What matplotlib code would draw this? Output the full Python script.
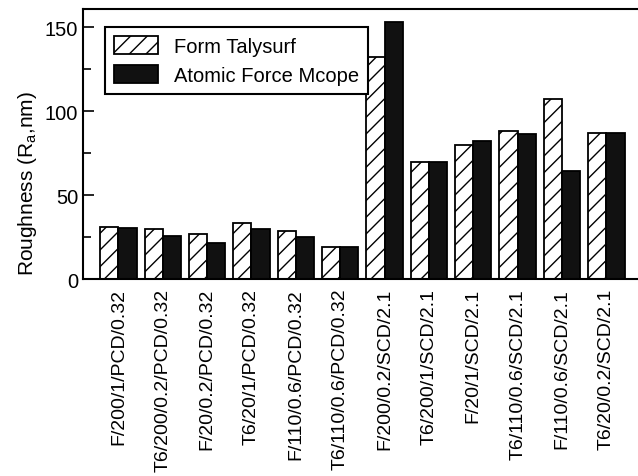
import matplotlib
matplotlib.use("Agg")
import numpy as np
import matplotlib.pyplot as plt
from matplotlib.ticker import MultipleLocator

# data
conditions = [
    "F/200/1/PCD/0.32", "T6/200/0.2/PCD/0.32", "F/20/0.2/PCD/0.32",
    "T6/20/1/PCD/0.32", "F/110/0.6/PCD/0.32", "T6/110/0.6/PCD/0.32",
    "F/200/0.2/SCD/2.1", "T6/200/1/SCD/2.1", "F/20/1/SCD/2.1",
    "T6/110/0.6/SCD/2.1", "F/110/0.6/SCD/2.1", "T6/20/0.2/SCD/2.1",
]
form_talysurf = [31.4, 30, 27, 33.6, 28.7, 19.1, 132.6, 69.7, 80.2, 88.5, 107.4, 87]
afm = [30.6, 25.7, 21.7, 30, 25.5, 19.1, 153, 69.7, 82.6, 86.6, 64.7, 87]
series_labels = ["Form Talysurf", "Atomic Force Mcope"]

plt.rcParams["font.family"] = ["Liberation Sans", "DejaVu Sans"]
plt.rcParams["hatch.linewidth"] = 1.0

fig = plt.figure(figsize=(6.38, 4.77), dpi=100)
ax = fig.add_axes([0.130, 0.412, 0.876, 0.567])

x = np.arange(len(conditions))
w = 0.41
ax.bar(x - w / 2, form_talysurf, w, color="white", edgecolor="black",
       hatch="//", linewidth=1.3, label=series_labels[0])
ax.bar(x + w / 2, afm, w, color="#111111", edgecolor="black",
       linewidth=1.3, label=series_labels[1])

ax.set_xlim(-0.8, 11.8)
ax.set_ylim(0, 161)
ax.yaxis.set_major_locator(MultipleLocator(50))
ax.yaxis.set_minor_locator(MultipleLocator(25))
ax.tick_params(axis="y", which="major", direction="in", length=8, width=1.2, labelsize=14.5)
ax.tick_params(axis="y", which="minor", direction="in", length=6, width=1.2)
ax.set_xticks(x)
ax.set_xticklabels(conditions, rotation=90, fontsize=14)
ax.tick_params(axis="x", length=0, pad=6)

for s in ["left", "bottom", "top"]:
    ax.spines[s].set_linewidth(1.5)
ax.spines["right"].set_visible(False)

ax.set_ylabel("Roughness (R$_\\mathregular{a}$,nm)", fontsize=15)
ax.yaxis.set_label_coords(-0.078, 0.36)

leg = ax.legend(loc="upper left", bbox_to_anchor=(0.039, 0.933), fontsize=14.5,
                frameon=True, fancybox=False, edgecolor="black", framealpha=1,
                handlelength=2.2, handleheight=1.0, borderpad=0.45,
                labelspacing=0.45, borderaxespad=0)
leg.get_frame().set_linewidth(1.5)

fig.savefig("out.png", dpi=100)
plt.close(fig)
